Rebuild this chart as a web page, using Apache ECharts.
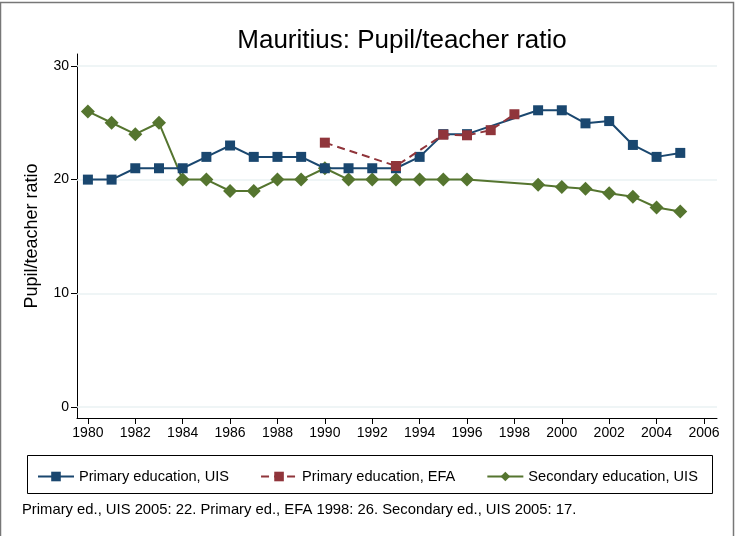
<!DOCTYPE html>
<html>
<head>
<meta charset="utf-8">
<script src="https://cdn.jsdelivr.net/npm/echarts@6/dist/echarts.min.js"></script>
<style>
  html, body { margin: 0; padding: 0; background: #fff; }
  #chart { width: 736px; height: 536px; }
</style>
</head>
<body>
<div id="chart"></div>
<script>
(function(win) {

    var years = [1980, 1981, 1982, 1983, 1984, 1985, 1986, 1987, 1988, 1989,
                 1990, 1991, 1992, 1993, 1994, 1995, 1996, 1997, 1998, 1999,
                 2000, 2001, 2002, 2003, 2004, 2005];

    var primaryUIS = [20, 20, 21, 21, 21, 22, 23, 22, 22, 22,
                      21, 21, 21, 21, 22, 24, 24, null, null, 26.1,
                      26.1, 24.95, 25.15, 23.05, 22, 22.35];

    var primaryEFA = [null, null, null, null, null, null, null, null, null, null,
                      23.25, null, null, 21.2, null, 23.95, 23.9, 24.35, 25.75, null,
                      null, null, null, null, null, null];

    var secondaryUIS = [26, 25, 24, 25, 20, 20, 19, 19, 20, 20,
                        21, 20, 20, 20, 20, 20, 20, null, null, 19.55,
                        19.35, 19.2, 18.8, 18.5, 17.55, 17.2];

    var xTicks = [1980, 1982, 1984, 1986, 1988, 1990, 1992, 1994, 1996, 1998, 2000, 2002, 2004, 2006];
    var yTicks = [0, 10, 20, 30];

    var seriesNames = ['Primary education, UIS', 'Primary education, EFA', 'Secondary education, UIS'];
    var colors = ['#1a476f', '#90353b', '#55752f'];
    var font = 'Liberation Sans, Arial, sans-serif';

    var pairs = function(vals) {
        return years.map(function(y, i) { return [y, vals[i]]; });
    };

    var chart = echarts.init(document.getElementById('chart'), null, { renderer: 'canvas' });

    chart.setOption({
        backgroundColor: '#fff',
        animation: false,
        color: colors,
        title: {
            text: 'Mauritius: Pupil/teacher ratio',
            left: 397,
            top: 23,
            textAlign: 'center',
            textStyle: { fontFamily: font, fontSize: 26, fontWeight: 'normal', color: '#000' }
        },
        grid: { left: 77, right: 19, top: 54, bottom: 118, containLabel: false },
        legend: {
            left: 32,
            top: 464,
            itemGap: 31,
            itemWidth: 36,
            itemHeight: 12,
            textStyle: { fontFamily: font, fontSize: 14.6, color: '#000' },
            data: seriesNames
        },
        graphic: [{
            type: 'rect',
            shape: { x: 0.5, y: 2.5, width: 733, height: 540 },
            style: { fill: 'none', stroke: '#777', lineWidth: 1.5 },
            silent: true
        }, {
            type: 'rect',
            shape: { x: 27.5, y: 455.5, width: 685, height: 38 },
            style: { fill: 'none', stroke: '#000', lineWidth: 1 },
            silent: true
        }, {
            type: 'text',
            left: 22,
            top: 502,
            style: {
                text: 'Primary ed., UIS 2005: 22. Primary ed., EFA 1998: 26. Secondary ed., UIS 2005: 17.',
                font: '14.8px ' + font,
                fill: '#000'
            }
        }],
        xAxis: {
            type: 'value',
            min: 1979.54,
            max: 2006.55,
            axisLine: { show: true, onZero: false, lineStyle: { color: '#000', width: 1 } },
            axisTick: { show: true, customValues: xTicks, length: 6, lineStyle: { color: '#000' } },
            axisLabel: {
                customValues: xTicks, color: '#000', fontFamily: font, fontSize: 14, margin: 8,
                formatter: function(v) { return String(v); }
            },
            splitLine: { show: false }
        },
        yAxis: {
            type: 'value',
            min: -0.97,
            max: 31.05,
            name: 'Pupil/teacher ratio',
            nameLocation: 'middle',
            nameGap: 36,
            nameTextStyle: { fontFamily: font, fontSize: 18, color: '#000' },
            axisLine: { show: true, onZero: false, lineStyle: { color: '#000', width: 1 } },
            axisTick: { show: true, customValues: yTicks, length: 6, lineStyle: { color: '#000' } },
            axisLabel: {
                customValues: yTicks, color: '#000', fontFamily: font, fontSize: 14, margin: 8,
                formatter: function(v) { return String(v); }
            },
            splitLine: { show: false }
        },
        series: [{
            name: seriesNames[0],
            type: 'line',
            data: pairs(primaryUIS),
            connectNulls: true,
            symbol: 'rect',
            symbolSize: 10,
            z: 3,
            lineStyle: { color: colors[0], width: 2 },
            itemStyle: { color: colors[0] },
            markLine: {
                silent: true,
                symbol: 'none',
                label: { show: false },
                lineStyle: { color: '#eaf2f3', type: 'solid', width: 1.5 },
                data: yTicks.map(function(t) { return { yAxis: t }; }),
                z: 1
            }
        }, {
            name: seriesNames[1],
            type: 'line',
            data: pairs(primaryEFA),
            connectNulls: true,
            symbol: 'rect',
            symbolSize: 10,
            z: 4,
            lineStyle: { color: colors[1], width: 2, type: [8, 5] },
            itemStyle: { color: colors[1] }
        }, {
            name: seriesNames[2],
            type: 'line',
            data: pairs(secondaryUIS),
            connectNulls: true,
            symbol: 'diamond',
            symbolSize: 14,
            z: 2,
            lineStyle: { color: colors[2], width: 2 },
            itemStyle: { color: colors[2] }
        }]
    });

}(this));
</script>
</body>
</html>
